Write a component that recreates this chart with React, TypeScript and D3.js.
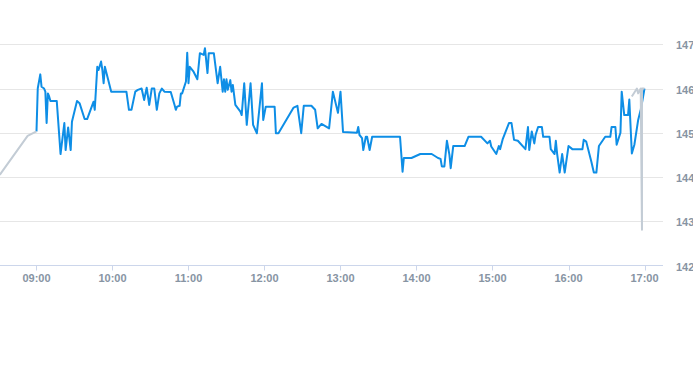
import React, { useEffect, useRef } from "react";
import * as d3 from "d3";

// intraday price
const sessionTimes = [
  "09:00", "09:01", "09:03", "09:04", "09:06", "09:07", "09:08", "09:09", "09:10", "09:11",
  "09:16", "09:19", "09:22", "09:23", "09:25", "09:27", "09:28", "09:32", "09:34", "09:38",
  "09:40", "09:45", "09:46", "09:48", "09:49", "09:51", "09:52", "09:53", "09:54", "09:55",
  "09:59", "10:11", "10:13", "10:15", "10:18", "10:20", "10:23", "10:25", "10:27", "10:29",
  "10:31", "10:33", "10:35", "10:37", "10:39", "10:41", "10:46", "10:49", "10:50", "10:51",
  "10:53", "10:54", "10:55", "10:58", "10:59", "11:00", "11:01", "11:04", "11:07", "11:09",
  "11:12", "11:13", "11:15", "11:16", "11:20", "11:22", "11:23", "11:25", "11:27", "11:28",
  "11:29", "11:30", "11:31", "11:33", "11:34", "11:35", "11:37", "11:41", "11:42", "11:44",
  "11:46", "11:49", "11:51", "11:54", "11:58", "11:59", "12:01", "12:08", "12:09", "12:11",
  "12:23", "12:26", "12:29", "12:31", "12:37", "12:40", "12:42", "12:45", "12:51", "12:54",
  "12:58", "13:00", "13:02", "13:13", "13:14", "13:15", "13:17", "13:18", "13:20", "13:21",
  "13:23", "13:25", "13:47", "13:49", "13:50", "13:56", "14:03", "14:12", "14:17", "14:19",
  "14:20", "14:22", "14:24", "14:26", "14:27", "14:29", "14:38", "14:41", "14:51", "14:56",
  "14:58", "14:59", "15:03", "15:05", "15:06", "15:08", "15:13", "15:15", "15:17", "15:20",
  "15:26", "15:28", "15:29", "15:31", "15:33", "15:34", "15:36", "15:39", "15:40", "15:45",
  "15:46", "15:49", "15:50", "15:51", "15:53", "15:55", "15:57", "16:00", "16:03", "16:11",
  "16:12", "16:14", "16:18", "16:20", "16:22", "16:24", "16:29", "16:33", "16:34", "16:37",
  "16:38", "16:41", "16:42", "16:44", "16:47", "16:48", "16:50", "16:52", "16:55", "16:57",
  "16:58", "17:00",
];
const sessionValues = [
  145.03, 146.0, 146.32, 146.04, 146.0, 145.93, 145.22, 145.89, 145.82, 145.72,
  145.72, 144.52, 145.22, 144.61, 145.12, 144.61, 145.25, 145.72, 145.67, 145.31,
  145.31, 145.7, 145.52, 146.49, 146.42, 146.61, 146.42, 146.12, 146.49, 146.38,
  145.93, 145.93, 145.52, 145.52, 145.93, 145.97, 146.0, 145.74, 146.02, 145.63,
  146.0, 146.0, 145.52, 145.89, 146.0, 145.93, 145.92, 145.63, 145.52, 145.59,
  145.61, 145.89, 145.89, 146.16, 146.81, 146.12, 146.49, 146.38, 146.21, 146.8,
  146.76, 146.91, 146.35, 146.8, 146.8, 146.35, 146.12, 146.49, 145.93, 146.21,
  145.93, 146.21, 145.97, 146.19, 145.93, 146.08, 145.63, 145.48, 145.4, 146.12,
  145.18, 146.12, 145.18, 144.99, 146.12, 145.29, 145.59, 145.59, 144.99, 144.99,
  145.57, 145.61, 144.99, 145.61, 145.61, 145.52, 145.1, 145.2, 145.1, 145.93,
  145.45, 145.93, 145.02, 145.0, 145.13, 144.95, 144.88, 144.61, 144.91, 144.91,
  144.61, 144.91, 144.91, 144.12, 144.43, 144.43, 144.52, 144.52, 144.43, 144.41,
  144.24, 144.24, 144.82, 144.5, 144.2, 144.7, 144.7, 144.91, 144.91, 144.76,
  144.82, 144.69, 144.52, 144.7, 144.63, 144.85, 145.22, 145.22, 144.84, 144.82,
  144.63, 145.13, 144.61, 145.03, 144.76, 144.95, 145.13, 145.13, 144.91, 144.91,
  144.63, 144.52, 144.82, 144.53, 144.1, 144.52, 144.1, 144.7, 144.63, 144.63,
  144.84, 144.8, 144.35, 144.1, 144.1, 144.7, 144.91, 144.91, 145.13, 145.13,
  144.73, 145.0, 145.93, 145.4, 145.4, 145.75, 144.53, 144.73, 145.29, 145.52,
  145.67, 146.0,
];

// pre / post session (grey)
const extendedTimes = [
  "08:31", "08:53", "09:00",
  "16:50", "16:54", "16:55", "16:57", "16:58", "16:58", "17:00",
];
const extendedValues = [
  144.05, 144.93, 145.03,
  145.82, 146.0, 145.89, 146.0, 142.81, 146.0, 146.0,
];
const extendedSegments = [[0, 3], [3, 10]];

const domainStart = "08:31:12";
const domainEnd = "17:14:36";
const xTickLabels = ["09:00", "10:00", "11:00", "12:00", "13:00", "14:00", "15:00", "16:00", "17:00"];
const yTicks = [142, 143, 144, 145, 146, 147];

const WIDTH = 693;
const HEIGHT = 365;

export default function App() {
  const svgRef = useRef<SVGSVGElement>(null);

  useEffect(() => {
    const svg = d3.select(svgRef.current);
    svg.selectChildren().remove();

    const plotRight = 663,
      plotTop = 44.3,
      plotBottom = 265.5,
      labelColor = "#8794a3",
      font = "'Liberation Sans', Arial, sans-serif";

    const parseHM = d3.timeParse("%H:%M");
    const parseHMS = d3.timeParse("%H:%M:%S");

    const x = d3
      .scaleTime()
      .domain([parseHMS(domainStart)!, parseHMS(domainEnd)!])
      .range([0, plotRight]);
    const y = d3.scaleLinear().domain([142, 147]).range([plotBottom, plotTop]);

    svg
      .append("defs")
      .append("clipPath")
      .attr("id", "plot-clip")
      .append("rect")
      .attr("x", 0)
      .attr("y", 0)
      .attr("width", plotRight)
      .attr("height", plotBottom);

    // grid
    svg
      .append("g")
      .selectAll("line")
      .data(yTicks.filter((d) => d !== 142))
      .enter()
      .append("line")
      .attr("x1", 0)
      .attr("x2", plotRight)
      .attr("y1", (d) => Math.round(y(d)) + 0.5)
      .attr("y2", (d) => Math.round(y(d)) + 0.5)
      .attr("stroke", "#e6e6e6")
      .attr("stroke-width", 1);

    // y labels on the right
    svg
      .append("g")
      .selectAll("text")
      .data(yTicks)
      .enter()
      .append("text")
      .attr("x", 676)
      .attr("y", (d) => y(d) + 5)
      .attr("fill", labelColor)
      .attr("font-family", font)
      .attr("font-weight", "bold")
      .attr("font-size", 11)
      .text((d) => d);

    // x axis
    const xAxis = svg.append("g");
    xAxis
      .append("line")
      .attr("x1", 0)
      .attr("x2", plotRight)
      .attr("y1", plotBottom)
      .attr("y2", plotBottom)
      .attr("stroke", "#ccd6eb");

    const ticks = xTickLabels.map((l) => ({ label: l, t: parseHM(l)! }));
    xAxis
      .selectAll("line.tick")
      .data(ticks)
      .enter()
      .append("line")
      .attr("class", "tick")
      .attr("x1", (d) => Math.round(x(d.t)) + 0.5)
      .attr("x2", (d) => Math.round(x(d.t)) + 0.5)
      .attr("y1", plotBottom)
      .attr("y2", plotBottom + 5)
      .attr("stroke", "#ccd6eb");
    xAxis
      .selectAll("text")
      .data(ticks)
      .enter()
      .append("text")
      .attr("x", (d) => x(d.t))
      .attr("y", 282)
      .attr("text-anchor", "middle")
      .attr("fill", labelColor)
      .attr("font-family", font)
      .attr("font-weight", "bold")
      .attr("font-size", 11)
      .text((d) => d.label);

    const line = d3
      .line<[Date, number]>()
      .x((d) => x(d[0]))
      .y((d) => y(d[1]));

    const plot = svg.append("g").attr("clip-path", "url(#plot-clip)");

    const sessionData: [Date, number][] = sessionTimes.map((t, i) => [parseHM(t)!, sessionValues[i]]);
    plot
      .append("path")
      .attr("d", line(sessionData))
      .attr("fill", "none")
      .attr("stroke", "#0e8ee6")
      .attr("stroke-width", 2)
      .attr("stroke-linejoin", "round");

    extendedSegments.forEach(([a, b]) => {
      const seg: [Date, number][] = extendedTimes
        .slice(a, b)
        .map((t, i) => [parseHM(t)!, extendedValues[a + i]]);
      plot
        .append("path")
        .attr("d", line(seg))
        .attr("fill", "none")
        .attr("stroke", "#c3ccd5")
        .attr("stroke-width", 2)
        .attr("stroke-linejoin", "round");
    });
  }, []);

  return (
    <svg
      ref={svgRef}
      width={WIDTH}
      height={HEIGHT}
      style={{ position: "absolute", left: 0, top: 0, background: "#fff" }}
    />
  );
}
